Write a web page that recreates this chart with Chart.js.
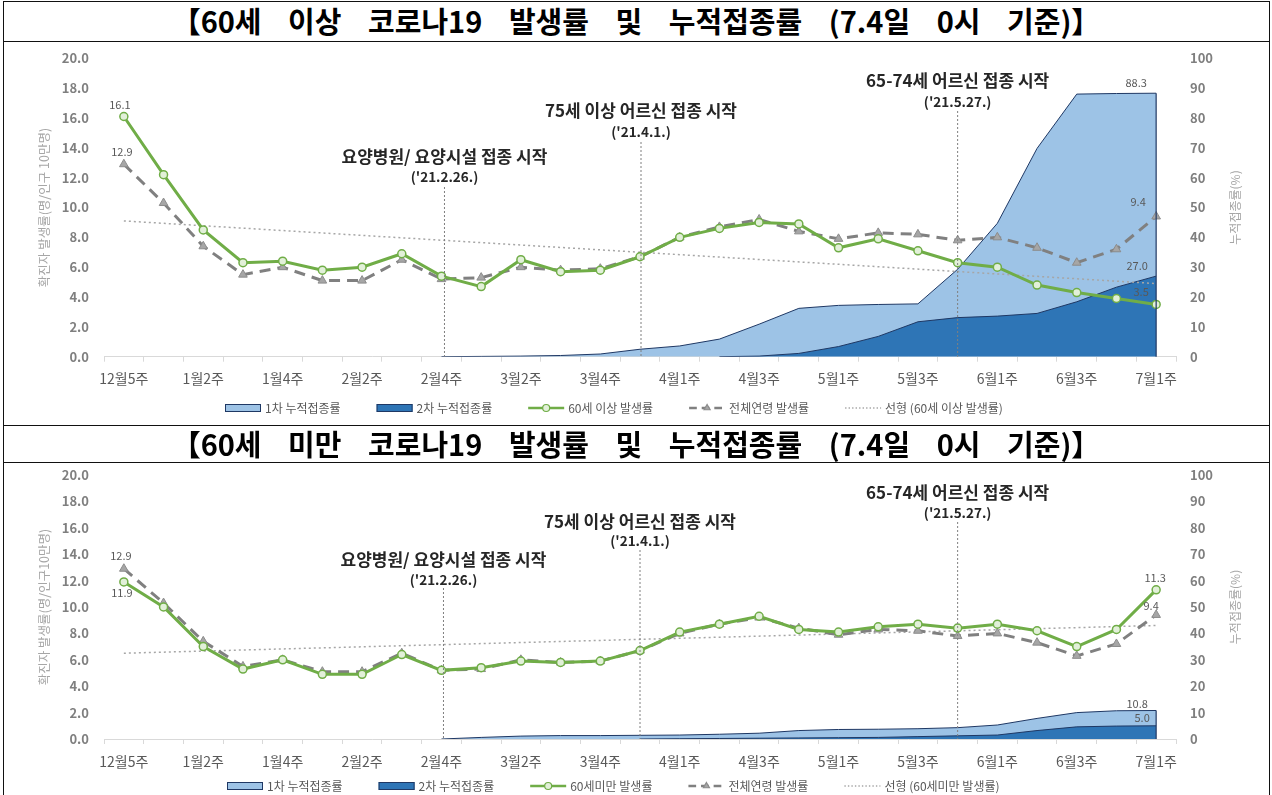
<!DOCTYPE html>
<html><head><meta charset="utf-8">
<script src="https://cdn.jsdelivr.net/npm/chart.js@4.4.1/dist/chart.umd.min.js"></script>
<style>
html,body{margin:0;padding:0;background:#fff;}
body{width:1272px;height:795px;position:relative;overflow:hidden;font-family:'Noto Sans CJK KR','Noto Sans',sans-serif;}
.title{position:absolute;left:0;width:1272px;text-align:center;font-weight:bold;font-size:29px;word-spacing:20px;color:#000;line-height:29px;height:29px;white-space:nowrap;}
.hl{position:absolute;left:3px;width:1267px;height:0;border-top:1.5px solid #111;}
.vl{position:absolute;top:1px;height:800px;width:0;border-left:1.5px solid #111;}
canvas{position:absolute;left:0;}
</style></head>
<body>
<canvas id="c1" width="1272" height="382" style="top:42px;width:1272px;height:382px"></canvas>
<canvas id="c2" width="1272" height="332" style="top:463px;width:1272px;height:332px"></canvas>
<div class="title" style="top:6px">【60세 이상 코로나19 발생률 및 누적접종률 (7.4일 0시 기준)】</div>
<div class="title" style="top:429px">【60세 미만 코로나19 발생률 및 누적접종률 (7.4일 0시 기준)】</div>
<div class="hl" style="top:1px"></div>
<div class="hl" style="top:41px"></div>
<div class="hl" style="top:425px"></div>
<div class="hl" style="top:462px"></div>
<div class="vl" style="left:3px"></div>
<div class="vl" style="left:1269px"></div>
<script>
const weeks = ['12월5주','1월1주','1월2주','1월3주','1월4주','2월1주','2월2주','2월3주','2월4주','3월1주','3월2주','3월3주','3월4주','3월5주','4월1주','4월2주','4월3주','4월4주','5월1주','5월2주','5월3주','5월4주','6월1주','6월2주','6월3주','6월4주','7월1주'];

const allAgeRate = [12.9,10.3,7.4,5.5,6.0,5.1,5.1,6.5,5.2,5.3,6.0,5.8,5.9,6.7,8.0,8.7,9.2,8.4,7.9,8.3,8.2,7.8,8.0,7.3,6.3,7.2,9.4];

const elderRate = [16.1,12.2,8.5,6.3,6.4,5.8,6.0,6.9,5.4,4.7,6.5,5.7,5.8,6.7,8.0,8.6,9.0,8.9,7.3,7.9,7.1,6.3,6.0,4.8,4.3,3.9,3.5];
const elderTrend = [9.1,null,null,null,null,null,null,null,null,null,null,null,null,null,null,null,null,null,null,null,null,null,null,null,null,null,4.9];
const elderDose1 = [null,null,null,null,null,null,null,null,0,0.1,0.2,0.4,0.9,2.5,3.6,5.9,10.9,16.2,17.2,17.5,17.7,29.3,44.7,69.8,88.0,88.2,88.3];
const elderDose2 = [null,null,null,null,null,null,null,null,null,null,null,null,null,null,null,0,0.2,1.1,3.4,6.8,11.7,13.1,13.6,14.5,18.4,23.3,27.0];

const youngRate = [11.9,10.0,7.0,5.3,6.0,4.9,4.9,6.4,5.2,5.4,5.9,5.8,5.9,6.7,8.1,8.7,9.3,8.3,8.1,8.5,8.7,8.4,8.7,8.2,7.0,8.3,11.3];
const youngTrend = [6.5,null,null,null,null,null,null,null,null,null,null,null,null,null,null,null,null,null,null,null,null,null,null,null,null,null,8.6];
const youngDose1 = [null,null,null,null,null,null,null,null,0,0.6,1.1,1.3,1.3,1.4,1.5,1.8,2.2,3.2,3.6,3.7,3.9,4.3,5.3,7.8,10.0,10.7,10.8];
const youngDose2 = [null,null,null,null,null,null,null,null,null,null,null,null,null,0,0.1,0.2,0.3,0.4,0.5,0.6,0.9,1.2,1.5,3.2,4.6,4.9,5.0];

const FONT = "'Noto Sans CJK KR','Noto Sans',sans-serif";
Chart.defaults.font.family = FONT;

const deco = {
  id: 'deco',
  afterDatasetsDraw(chart) {
    const o = chart.options.plugins.deco;
    const ctx = chart.ctx, xs = chart.scales.x, y2 = chart.scales.y2, ca = chart.chartArea;
    ctx.save();
    // right edge of first-dose area
    const d1 = chart.data.datasets[0].data, last = d1.length - 1;
    const ex = xs.getPixelForValue(last);
    ctx.strokeStyle = '#1f3864'; ctx.lineWidth = 1.2;
    ctx.beginPath(); ctx.moveTo(ex, y2.getPixelForValue(d1[last])); ctx.lineTo(ex, ca.bottom); ctx.stroke();
    // event annotations
    o.notes.forEach(n => {
      const x = xs.getPixelForValue(n.idx) + n.dx;
      ctx.setLineDash([2, 2]); ctx.strokeStyle = '#7f7f7f'; ctx.lineWidth = 1;
      ctx.beginPath(); ctx.moveTo(x, n.lineTop); ctx.lineTo(x, ca.bottom); ctx.stroke();
      ctx.setLineDash([]);
      ctx.fillStyle = '#262626'; ctx.textAlign = 'center'; ctx.textBaseline = 'middle';
      ctx.font = 'bold 17px ' + FONT; ctx.fillText(n.text, x, n.textY);
      ctx.font = 'bold 13.5px ' + FONT; ctx.fillText(n.date, x, n.dateY);
    });
    // value labels
    ctx.font = '11px ' + FONT; ctx.fillStyle = '#595959'; ctx.textAlign = 'center'; ctx.textBaseline = 'middle';
    o.valueLabels.forEach(l => {
      const ds = chart.data.datasets[l.ds], v = ds.data[l.i];
      const sc = chart.scales[ds.yAxisID];
      ctx.fillText(v.toFixed(1), xs.getPixelForValue(l.i) + l.dx, sc.getPixelForValue(v) + l.dy);
    });
    // axis titles (both read bottom-to-top)
    const cy = (ca.top + ca.bottom) / 2;
    ctx.fillStyle = '#a6a6a6'; ctx.font = '12.5px ' + FONT;
    ctx.save(); ctx.translate(o.leftTitleX, cy); ctx.rotate(-Math.PI / 2); ctx.fillText(o.leftTitle, 0, 0); ctx.restore();
    ctx.font = '12px ' + FONT;
    ctx.save(); ctx.translate(o.rightTitleX, cy); ctx.rotate(-Math.PI / 2); ctx.fillText(o.rightTitle, 0, 0); ctx.restore();
    // legend
    let x = o.legendX; const y = o.legendY, w = 36;
    ctx.font = '12px ' + FONT; ctx.textAlign = 'left';
    chart.data.datasets.forEach(ds => {
      if (ds.fill) {
        ctx.fillStyle = ds.backgroundColor; ctx.fillRect(x, y - 4, w, 8);
        ctx.strokeStyle = ds.borderColor; ctx.lineWidth = 1; ctx.strokeRect(x + 0.5, y - 3.5, w - 1, 7);
      } else {
        ctx.setLineDash(ds.borderDash ? ds.borderDash.map(d => d * 0.7) : []);
        ctx.strokeStyle = ds.borderColor; ctx.lineWidth = Math.min(ds.borderWidth, 2.5);
        ctx.beginPath(); ctx.moveTo(x, y); ctx.lineTo(x + w, y); ctx.stroke();
        ctx.setLineDash([]);
        if (ds.pointRadius > 0) {
          ctx.fillStyle = ds.pointBackgroundColor; ctx.strokeStyle = ds.pointBorderColor; ctx.lineWidth = 1.2;
          Chart.helpers.drawPoint(ctx, {pointStyle: ds.pointStyle, radius: 3.5, borderWidth: 1.2, rotation: 0}, x + w / 2, y);
        }
      }
      ctx.fillStyle = '#595959';
      ctx.fillText(ds.label, x + w + 4, y);
      x += w + 4 + ctx.measureText(ds.label).width + o.legendGap;
    });
    ctx.restore();
  }
};

function build(el, c) {
  return new Chart(el, {
    type: 'line',
    data: {
      labels: weeks,
      datasets: [
        {label: '1차 누적접종률', data: c.dose1, yAxisID: 'y2', borderColor: '#1f3864', borderWidth: 1, backgroundColor: '#9dc3e6', fill: 'origin', pointRadius: 0, tension: 0, order: 5},
        {label: '2차 누적접종률', data: c.dose2, yAxisID: 'y2', borderColor: '#1f3864', borderWidth: 1, backgroundColor: '#2e75b6', fill: 'origin', pointRadius: 0, tension: 0, order: 4},
        {label: c.rateLabel, data: c.rate, yAxisID: 'y', borderColor: '#70ad47', borderWidth: 3, fill: false, pointStyle: 'circle', pointRadius: 4, pointBackgroundColor: '#e2f0d9', pointBorderColor: '#70ad47', pointBorderWidth: 1.5, tension: 0, order: 1},
        {label: '전체연령 발생률', data: allAgeRate, yAxisID: 'y', borderColor: '#808080', borderWidth: 3, borderDash: [11, 7], fill: false, pointStyle: 'triangle', pointRadius: 5, pointBackgroundColor: '#a6a6a6', pointBorderColor: '#8c8c8c', pointBorderWidth: 1, tension: 0, order: 2},
        {label: c.trendLabel, data: c.trend, yAxisID: 'y', borderColor: '#a6a6a6', borderWidth: 1.5, borderDash: [2, 3], fill: false, pointRadius: 0, spanGaps: true, order: 3}
      ]
    },
    options: {
      responsive: false, animation: false,
      layout: {padding: {top: c.padTop, bottom: c.padBottom, left: 0, right: 0}},
      plugins: {
        legend: {display: false}, tooltip: {enabled: false},
        deco: {
          notes: c.notes, valueLabels: c.valueLabels,
          leftTitle: c.leftTitle, rightTitle: '누적접종률(%)', leftTitleX: 44, rightTitleX: 1235,
          legendX: c.legendX, legendY: c.legendY, legendGap: 36
        }
      },
      scales: {
        x: {
          offset: true,
          grid: {display: true, drawOnChartArea: false, drawTicks: true, tickLength: 5, color: '#d9d9d9', offset: true},
          border: {display: true, color: '#d9d9d9'},
          ticks: {autoSkip: false, maxRotation: 0, minRotation: 0, padding: 9, color: '#595959', font: {size: 14}, callback: (v, i) => (i % 2 === 0 ? weeks[i] : '')},
          afterFit: s => { s.height = 30; }
        },
        y: {
          position: 'left', min: 0, max: 20,
          grid: {display: false, drawTicks: false}, border: {display: false},
          ticks: {stepSize: 2, padding: 15, color: '#7f7f7f', font: {size: 13, weight: 'bold'}, callback: v => v.toFixed(1)},
          afterFit: s => { s.width = 104; s.paddingTop = 0; s.paddingBottom = 0; }
        },
        y2: {
          position: 'right', min: 0, max: 100,
          grid: {display: false, drawTicks: false}, border: {display: false},
          ticks: {stepSize: 10, padding: 14, color: '#7f7f7f', font: {size: 13, weight: 'bold'}},
          afterFit: s => { s.width = 96; s.paddingTop = 0; s.paddingBottom = 0; }
        }
      }
    },
    plugins: [deco]
  });
}

build(document.getElementById('c1'), {
  rate: elderRate, trend: elderTrend, dose1: elderDose1, dose2: elderDose2,
  rateLabel: '60세 이상 발생률', trendLabel: '선형 (60세 이상 발생률)',
  leftTitle: '확진자 발생률(명/인구 10만명)',
  padTop: 16.3, padBottom: 37.3, legendX: 225, legendY: 366,
  notes: [
    {idx: 8, dx: 3, text: '요양병원/ 요양시설 접종 시작', date: "('21.2.26.)", textY: 115, dateY: 135, lineTop: 145},
    {idx: 13, dx: 1, text: '75세 이상 어르신 접종 시작', date: "('21.4.1.)", textY: 69, dateY: 90, lineTop: 100},
    {idx: 21, dx: 0, text: '65-74세 어르신 접종 시작', date: "('21.5.27.)", textY: 39, dateY: 60, lineTop: 69}
  ],
  valueLabels: [
    {ds: 2, i: 0, dx: -4, dy: -12}, {ds: 3, i: 0, dx: -2, dy: -12},
    {ds: 3, i: 26, dx: -18, dy: -15}, {ds: 2, i: 26, dx: -15, dy: -13},
    {ds: 0, i: 26, dx: -20, dy: -10}, {ds: 1, i: 26, dx: -19, dy: -10}
  ]
});

build(document.getElementById('c2'), {
  rate: youngRate, trend: youngTrend, dose1: youngDose1, dose2: youngDose2,
  rateLabel: '60세미만 발생률', trendLabel: '선형 (60세미만 발생률)',
  leftTitle: '확진자 발생률(명/인구10만명)',
  padTop: 12, padBottom: 26, legendX: 227, legendY: 323,
  notes: [
    {idx: 8, dx: 2, text: '요양병원/ 요양시설 접종 시작', date: "('21.2.26.)", textY: 97, dateY: 117, lineTop: 125},
    {idx: 13, dx: 0, text: '75세 이상 어르신 접종 시작', date: "('21.4.1.)", textY: 59, dateY: 78, lineTop: 87},
    {idx: 21, dx: 0, text: '65-74세 어르신 접종 시작', date: "('21.5.27.)", textY: 30, dateY: 50, lineTop: 59}
  ],
  valueLabels: [
    {ds: 3, i: 0, dx: -3, dy: -13}, {ds: 2, i: 0, dx: -2, dy: 11},
    {ds: 2, i: 26, dx: -1, dy: -12}, {ds: 3, i: 26, dx: -5, dy: -9},
    {ds: 0, i: 26, dx: -19, dy: -7}, {ds: 1, i: 26, dx: -14, dy: -8}
  ]
});
</script>
</body></html>
